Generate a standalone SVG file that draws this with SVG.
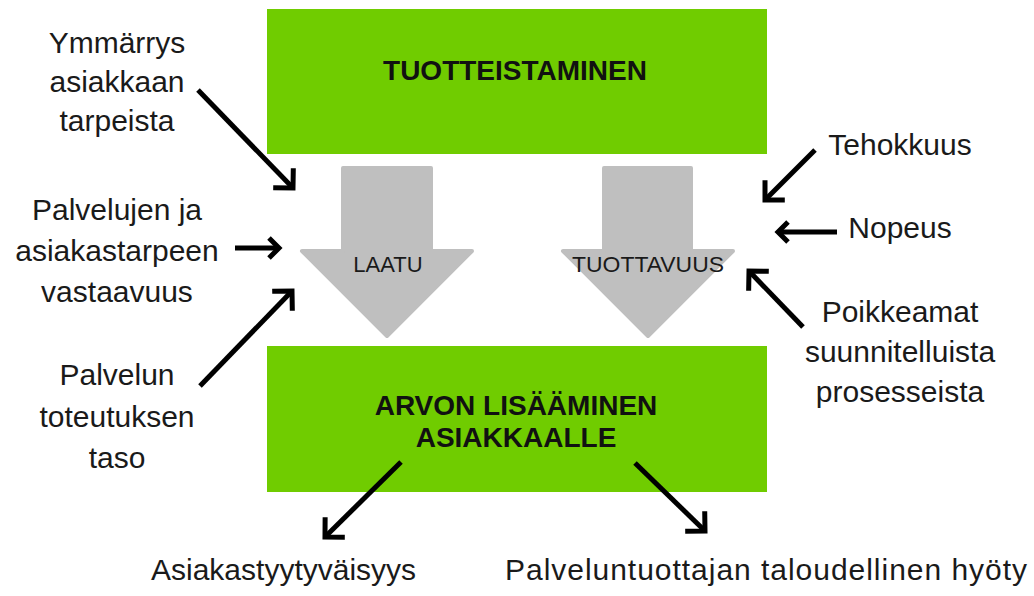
<svg xmlns="http://www.w3.org/2000/svg" width="1034" height="596" viewBox="0 0 1034 596">
  <style>
    .box { fill: #70CC00; }
    .flow { fill: #BFBFBF; stroke: #BFBFBF; stroke-width: 4; stroke-linejoin: round; }
    .head { font-family: "Liberation Sans", Arial, sans-serif; font-weight: bold; font-size: 28px; fill: #111; text-anchor: middle; }
    .flowtxt { font-family: "Liberation Sans", Arial, sans-serif; font-size: 22px; fill: #1a1a1a; text-anchor: middle; }
    .lbl { font-family: "Liberation Sans", Arial, sans-serif; font-size: 30px; fill: #1a1a1a; text-anchor: middle; }
    .lblL { font-family: "Liberation Sans", Arial, sans-serif; font-size: 30px; fill: #1a1a1a; }
    .conn { stroke: #000; stroke-width: 5; fill: none; stroke-linecap: butt; }
    .big { marker-end: url(#chevBig); }
    .small { marker-end: url(#chevSmall); }
  </style>
  <defs>
    <marker id="chevBig" markerUnits="userSpaceOnUse" viewBox="-20 -20 30 40" markerWidth="30" markerHeight="40" refX="0" refY="0" orient="auto">
      <path d="M-14,-14 L0,0 L-14,14" fill="none" stroke="#000" stroke-width="5" stroke-linejoin="miter"/>
    </marker>
    <marker id="chevSmall" markerUnits="userSpaceOnUse" viewBox="-20 -20 30 40" markerWidth="30" markerHeight="40" refX="0" refY="0" orient="auto">
      <path d="M-10,-10 L0,0 L-10,10" fill="none" stroke="#000" stroke-width="5" stroke-linejoin="miter"/>
    </marker>
  </defs>

  <rect width="1034" height="596" fill="#fff"/>

  <!-- top process box -->
  <g id="tuotteistaminen">
    <rect class="box" x="267" y="9" width="500" height="145"/>
    <text class="head" x="515" y="80">TUOTTEISTAMINEN</text>
  </g>

  <!-- bottom result box -->
  <g id="arvon-lisaaminen">
    <rect class="box" x="267" y="346" width="500" height="146"/>
    <text class="head" x="516" y="415">ARVON LISÄÄMINEN</text>
    <text class="head" x="516" y="447">ASIAKKAALLE</text>
  </g>

  <!-- block arrow: quality -->
  <g id="laatu">
    <polygon class="flow" points="343,168 431,168 431,251 472,251 387,336 302,251 343,251"/>
    <text class="flowtxt" x="388" y="272">LAATU</text>
  </g>

  <!-- block arrow: productivity -->
  <g id="tuottavuus">
    <polygon class="flow" points="604,168 691,168 691,251 733,251 648,336 563,251 604,251"/>
    <text class="flowtxt" x="648" y="272" textLength="152" lengthAdjust="spacingAndGlyphs">TUOTTAVUUS</text>
  </g>

  <!-- left-hand factors -->
  <g id="ymmarrys">
    <text class="lbl" x="117" y="53">Ymmärrys</text>
    <text class="lbl" x="117" y="92">asiakkaan</text>
    <text class="lbl" x="117" y="131">tarpeista</text>
  </g>
  <g id="vastaavuus">
    <text class="lbl" x="117" y="220">Palvelujen ja</text>
    <text class="lbl" x="117" y="261">asiakastarpeen</text>
    <text class="lbl" x="117" y="302">vastaavuus</text>
  </g>
  <g id="toteutus">
    <text class="lbl" x="117" y="385">Palvelun</text>
    <text class="lbl" x="117" y="427">toteutuksen</text>
    <text class="lbl" x="117" y="468">taso</text>
  </g>

  <!-- right-hand factors -->
  <g id="tehokkuus">
    <text class="lbl" x="900" y="155">Tehokkuus</text>
  </g>
  <g id="nopeus">
    <text class="lbl" x="900" y="238">Nopeus</text>
  </g>
  <g id="poikkeamat">
    <text class="lbl" x="900" y="322">Poikkeamat</text>
    <text class="lbl" x="900" y="362">suunnitelluista</text>
    <text class="lbl" x="900" y="402">prosesseista</text>
  </g>

  <!-- outcomes -->
  <g id="asiakastyytyvaisyys">
    <text class="lblL" x="151" y="580">Asiakastyytyväisyys</text>
  </g>
  <g id="taloudellinen-hyoty">
    <text class="lblL" x="505" y="580" textLength="522" lengthAdjust="spacing">Palveluntuottajan taloudellinen hyöty</text>
  </g>

  <!-- connectors -->
  <g id="connectors">
    <line class="conn big" x1="198" y1="90" x2="293" y2="188"/>
    <line class="conn small" x1="235" y1="248" x2="279" y2="248"/>
    <line class="conn big" x1="200" y1="386" x2="292" y2="291"/>
    <line class="conn big" x1="815" y1="150" x2="765" y2="200"/>
    <line class="conn small" x1="837" y1="232" x2="778" y2="232"/>
    <line class="conn big" x1="803" y1="327" x2="749" y2="271"/>
    <line class="conn big" x1="401" y1="462" x2="325" y2="537"/>
    <line class="conn big" x1="635" y1="463" x2="705" y2="531"/>
  </g>
</svg>
